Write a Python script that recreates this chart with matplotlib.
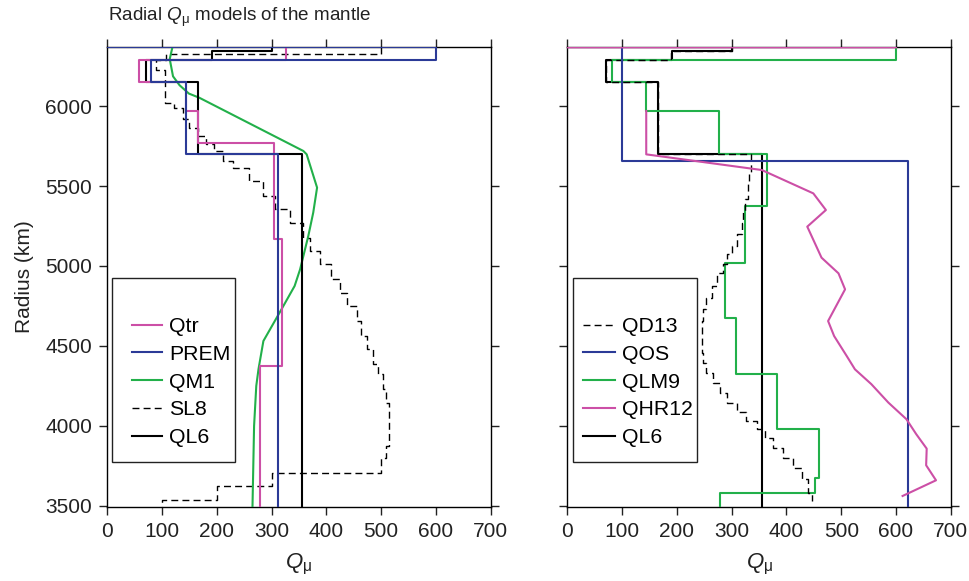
import matplotlib
matplotlib.use("Agg")
import matplotlib.pyplot as plt
from matplotlib.patches import Rectangle
import numpy as np

plt.rcParams["font.family"] = ["Liberation Sans", "DejaVu Sans"]
plt.rcParams["mathtext.fontset"] = "custom"
plt.rcParams["mathtext.rm"] = "Liberation Sans"
plt.rcParams["mathtext.it"] = "Liberation Sans:italic"

PINK = "#cc4fa6"
BLUE = "#2b3a97"
GREEN = "#22b04a"

# ---- left panel: layered models (radius bounds top->bottom, Q per layer) ----
qtr_r = [6367, 6291, 6151, 5969, 5771, 5171, 4375, 3480]
qtr_q = [327, 58, 144, 165, 304, 319, 279]

prem_r = [6367, 6367, 6291, 6151, 5701, 3480]
prem_q = [0, 600, 80, 143, 312]

ql6_r = [6367, 6344, 6291, 6151, 5701, 3480]
ql6_q = [300, 191, 70, 165, 355]

sl8_r = [6367, 6323, 6291, 6225, 6021, 5985, 5917, 5860, 5812, 5760, 5720,
         5656, 5615, 5531, 5437, 5354, 5271, 5177, 5094, 5011, 4917, 4834,
         4750, 4656, 4562, 4479, 4386, 4323, 4229, 4146, 3875, 3802, 3708,
         3625, 3538, 3480]
sl8_q = [500, 108, 89, 105, 121, 139, 150, 165, 180, 195, 212, 230, 258, 285,
         307, 333, 358, 370, 388, 409, 424, 437, 455, 464, 474, 486, 495, 504,
         508, 515, 508, 500, 300, 200, 100]

# QM1 is a smooth profile (Q, radius)
qm1_q = [119, 114, 120, 132, 149, 168, 358, 364, 383, 376, 367, 352, 342,
         318, 285, 276, 272, 268, 265]
qm1_r = [6369, 6294, 6186, 6130, 6078, 6052, 5719, 5698, 5490, 5334, 5188,
         4979, 4875, 4729, 4531, 4354, 4250, 4000, 3480]

# ---- right panel ----
qos_r = [6371, 5656, 3480]
qos_q = [100, 622]

qlm9_r = [6367, 6291, 6151, 5969, 5701, 5375, 5021, 4673, 4327, 3979, 3677,
          3578, 3480]
qlm9_q = [600, 81, 143, 277, 364, 325, 288, 307, 383, 460, 452, 279]

# QD13 staircase points (Q, radius)
qd13_q = [300, 190, 70, 165, 335, 332, 330, 324, 321, 318, 309, 300, 291, 285,
          273, 264, 254, 248, 245, 245, 248, 254, 266, 279, 291, 309, 327, 346,
          361, 376, 394, 412, 428, 440, 446, 446]
qd13_r = [6367, 6344, 6291, 6151, 5701, 5584, 5521, 5417, 5344, 5271, 5198,
          5125, 5073, 5011, 4959, 4875, 4802, 4729, 4656, 4542, 4459, 4396,
          4333, 4271, 4208, 4146, 4084, 4031, 3979, 3927, 3865, 3802, 3740,
          3667, 3583, 3531]

# QHR12: surface segment, then mantle profile
qhr12_q = [0, 600, np.nan, 144, 144, 355, 449, 472, 438, 464, 495, 507, 476,
           487, 510, 525, 555, 586, 619, 637, 656, 655, 673, 612]
qhr12_r = [6367, 6367, np.nan, 5969, 5698, 5600, 5454, 5350, 5246, 5052, 4954,
           4854, 4656, 4562, 4437, 4354, 4261, 4146, 4042, 3948, 3858, 3754,
           3660, 3562]


def layers(bounds, q):
    x, y = [], []
    for i, v in enumerate(q):
        x += [v, v]
        y += [bounds[i], bounds[i + 1]]
    return x, y


fig = plt.figure(figsize=(9.7, 5.81), dpi=100)
ax1 = fig.add_axes([0.1106, 0.1279, 0.3953, 0.7917])
ax2 = fig.add_axes([0.5849, 0.1279, 0.3953, 0.7917])

lw = 1.5
dash = (0, (5, 3))
ax1.plot(*layers(sl8_r, sl8_q), color="k", lw=1.0, ls=dash, label="SL8", zorder=3)
ax1.plot(qm1_q, qm1_r, color=GREEN, lw=lw, label="QM1", zorder=3)
ax1.plot(*layers(ql6_r, ql6_q), color="k", lw=lw, label="QL6", zorder=3)
ax1.plot(*layers(qtr_r, qtr_q), color=PINK, lw=lw, label="Qtr", zorder=3)
ax1.plot(*layers(prem_r, prem_q), color=BLUE, lw=lw, label="PREM", zorder=3)

ax2.plot(*layers(ql6_r, ql6_q), color="k", lw=lw, label="QL6", zorder=3)
ax2.plot(*layers(qlm9_r, qlm9_q), color=GREEN, lw=lw, label="QLM9", zorder=3)
ax2.plot(qd13_q, qd13_r, color="k", lw=1.0, ls=dash,
         drawstyle="steps-pre", label="QD13", zorder=3)
ax2.plot(*layers(qos_r, qos_q), color=BLUE, lw=lw, label="QOS", zorder=3)
ax2.plot(qhr12_q, qhr12_r, color=PINK, lw=lw, label="QHR12", zorder=3)

for ax in (ax1, ax2):
    ax.set_xlim(0, 700)
    ax.set_ylim(3495, 6371)
    ax.set_xticks(range(0, 701, 100))
    ax.set_yticks(range(3500, 6001, 500))
    ax.tick_params(direction="out", top=True, right=True, length=6, width=1,
                   labelsize=15, pad=5, color="#222222", labelcolor="#222222")
    for s in ax.spines.values():
        s.set_linewidth(1)
    ax.set_xlabel(r"$Q_{\mathrm{\mu}}$", fontsize=16, labelpad=8, color="#222222")

ax2.tick_params(labelleft=False)
ax1.set_ylabel("Radius (km)", fontsize=15, labelpad=8, color="#222222")


def legend_box(ax, order, x0, width, hx, hlen):
    h, l = ax.get_legend_handles_labels()
    lut = dict(zip(l, h))
    handles = [lut[n] for n in order]
    leg = ax.legend(handles, order, loc="upper left", frameon=False,
                    bbox_to_anchor=(hx, 0.412), borderpad=0,
                    borderaxespad=0, fontsize=15.3, handlelength=hlen,
                    handletextpad=0.35, labelspacing=0.41)
    ax.add_patch(Rectangle((x0, 0.097), width, 0.4, transform=ax.transAxes,
                           fill=False, lw=1, ec="#222222", zorder=5))
    return leg


legend_box(ax1, ["Qtr", "PREM", "QM1", "SL8", "QL6"], 0.012, 0.321, 0.064, 1.4)
legend_box(ax2, ["QD13", "QOS", "QLM9", "QHR12", "QL6"], 0.015, 0.323, 0.041, 1.5)

fig.text(108 / 970, 1 - 21 / 581, r"Radial $Q_{\mathrm{\mu}}$ models of the mantle",
         fontsize=13.6, va="baseline", ha="left", color="#222222")

fig.savefig("out.png", dpi=100)
